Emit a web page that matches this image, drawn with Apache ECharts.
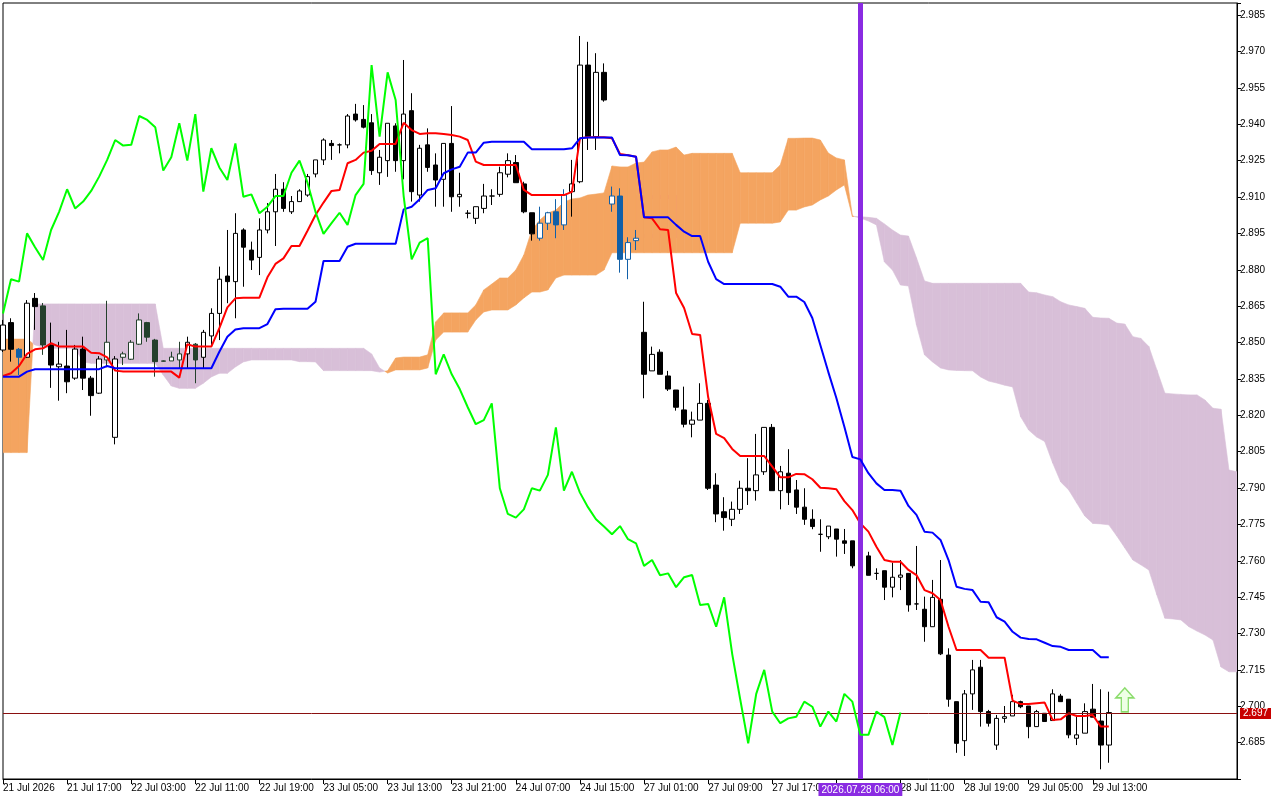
<!DOCTYPE html>
<html>
<head>
<meta charset="utf-8">
<script src="https://cdn.jsdelivr.net/npm/echarts@6/dist/echarts.min.js"></script>
<style>
html,body{margin:0;padding:0;background:#fff;}
#chart{width:1280px;height:800px;}
</style>
</head>
<body>
<div id="chart"></div>
<script>
// ---- tick labels (every 8 bars) ----
const tickLabels = ['21 Jul 2026','21 Jul 17:00','22 Jul 03:00','22 Jul 11:00','22 Jul 19:00','23 Jul 05:00',
  '23 Jul 13:00','23 Jul 21:00','24 Jul 07:00','24 Jul 15:00','27 Jul 01:00','27 Jul 09:00','27 Jul 17:00',
  '','28 Jul 11:00','28 Jul 19:00','29 Jul 05:00','29 Jul 13:00'];
const barCount = 155;
const markerBar = 107;
const markerLabel = '2026.07.28 06:00';
const lastPrice = 2.697;
const signalBars = [140];
const signalPrices = [2.7026];
const boxBars = [79, 84];
const boxPrices = [2.9100, 2.8939];

// ---- candles ----
const opens = [2.8469,2.8582,2.8472,2.8439,2.8682,2.8651,2.8490,2.8400,2.8403,2.8353,
2.8473,2.8353,2.8291,2.8428,2.8109,2.8439,2.8431,2.8493,2.8582,2.8510,
2.8424,2.8424,2.8428,2.8453,2.8493,2.8439,2.8527,2.8620,2.8774,2.8751,
2.8964,2.8881,2.8851,2.8964,2.9039,2.9132,2.9039,2.9081,2.9108,2.9195,
2.9253,2.9321,2.9315,2.9315,2.9442,2.9420,2.9406,2.9200,2.9250,2.9393,
2.9250,2.9456,2.9108,2.9315,2.9232,2.9173,2.9321,2.9101,2.9033,2.9012,
2.9053,2.9104,2.9111,2.9194,2.9242,2.9154,2.9035,2.8930,2.8992,2.9039,
2.8985,2.9122,2.9163,2.9644,2.9349,2.9614,2.9071,2.9104,2.8843,2.8920,
2.8542,2.8383,2.8460,2.8362,2.8304,2.8222,2.8163,2.8180,2.8249,2.7912,
2.7802,2.7771,2.7812,2.7899,2.7889,2.7967,2.8150,2.7889,2.7961,2.7892,
2.7821,2.7771,2.7709,2.7699,2.7731,2.7682,2.7682,2.7579,2.7620,2.7548,
2.7559,2.7491,2.7532,2.7548,2.7422,2.7400,2.7328,2.7441,2.7211,2.7019,
2.6858,2.7051,2.7161,2.6978,2.6840,2.6950,2.6960,2.7019,2.7001,2.6916,
2.6971,2.6941,2.7042,2.7029,2.6868,2.6889,2.6988,2.6939,2.6840];
const highs = [2.8593,2.8600,2.8477,2.8675,2.8704,2.8663,2.8582,2.8503,2.8552,2.8490,
2.8524,2.8362,2.8444,2.8672,2.8444,2.8462,2.8510,2.8620,2.8585,2.8515,
2.8426,2.8462,2.8503,2.8524,2.8498,2.8552,2.8641,2.8813,2.8964,2.9033,
2.8971,2.8916,2.9012,2.9075,2.9195,2.9161,2.9104,2.9132,2.9195,2.9253,
2.9342,2.9335,2.9321,2.9442,2.9484,2.9479,2.9442,2.9294,2.9404,2.9404,
2.9665,2.9528,2.9315,2.9383,2.9280,2.9321,2.9475,2.9200,2.9046,2.9060,
2.9154,2.9132,2.9225,2.9280,2.9273,2.9163,2.9035,2.9060,2.9039,2.9091,
2.9132,2.9253,2.9764,2.9740,2.9693,2.9651,2.9143,2.9136,2.8934,2.8964,
2.8668,2.8483,2.8472,2.8383,2.8304,2.8318,2.8215,2.8332,2.8263,2.7961,
2.7862,2.7844,2.7930,2.8023,2.8123,2.8150,2.8164,2.7991,2.8060,2.7933,
2.7899,2.7812,2.7771,2.7743,2.7731,2.7731,2.7682,2.7636,2.7637,2.7569,
2.7559,2.7592,2.7603,2.7548,2.7661,2.7452,2.7521,2.7603,2.7239,2.7019,
2.7067,2.7191,2.7191,2.6985,2.6964,2.7001,2.7047,2.7023,2.7001,2.6985,
2.6971,2.7070,2.7051,2.7029,2.6964,2.7012,2.7092,2.7070,2.7060];
const lows = [2.8461,2.8421,2.8366,2.8436,2.8552,2.8449,2.8313,2.8260,2.8291,2.8346,
2.8304,2.8198,2.8288,2.8398,2.8080,2.8407,2.8428,2.8490,2.8503,2.8359,
2.8421,2.8424,2.8394,2.8394,2.8332,2.8394,2.8490,2.8510,2.8662,2.8600,
2.8730,2.8799,2.8778,2.8950,2.8898,2.9039,2.9030,2.9081,2.9101,2.9181,
2.9232,2.9253,2.9280,2.9301,2.9411,2.9383,2.9191,2.9150,2.9183,2.9204,
2.9173,2.9081,2.9081,2.9204,2.9060,2.9060,2.9039,2.9060,2.9012,2.8989,
2.9033,2.9067,2.9101,2.9181,2.9159,2.9033,2.8920,2.8920,2.8964,2.8930,
2.8964,2.9019,2.9157,2.9294,2.9294,2.9493,2.9039,2.8788,2.8761,2.8881,
2.8270,2.8383,2.8369,2.8300,2.8219,2.8150,2.8109,2.8180,2.7892,2.7759,
2.7724,2.7743,2.7793,2.7830,2.7848,2.7954,2.7889,2.7812,2.7830,2.7793,
2.7748,2.7730,2.7637,2.7689,2.7617,2.7628,2.7569,2.7562,2.7540,2.7521,
2.7438,2.7449,2.7479,2.7390,2.7397,2.7266,2.7328,2.7211,2.6998,2.6808,
2.6795,2.6985,2.6916,2.6916,2.6820,2.6932,2.6960,2.6992,2.6868,2.6916,
2.6937,2.6941,2.7019,2.6868,2.6840,2.6889,2.6955,2.6740,2.6767];
const closes = [2.8572,2.8472,2.8439,2.8662,2.8648,2.8490,2.8407,2.8411,2.8338,2.8473,
2.8353,2.8281,2.8432,2.8501,2.8432,2.8453,2.8501,2.8593,2.8522,2.8421,
2.8423,2.8440,2.8453,2.8501,2.8428,2.8542,2.8620,2.8761,2.8751,2.8950,
2.8893,2.8840,2.8964,2.9039,2.9132,2.9053,2.9081,2.9125,2.9184,2.9253,
2.9335,2.9312,2.9315,2.9434,2.9418,2.9388,2.9209,2.9264,2.9404,2.9250,
2.9442,2.9122,2.9301,2.9222,2.9170,2.9321,2.9101,2.9111,2.9033,2.9060,
2.9104,2.9104,2.9200,2.9250,2.9159,2.9039,2.8948,2.8992,2.9035,2.8985,
2.9108,2.9154,2.9644,2.9349,2.9614,2.9500,2.9104,2.8843,2.8912,2.8930,
2.8369,2.8451,2.8369,2.8308,2.8233,2.8163,2.8180,2.8249,2.7899,2.7793,
2.7778,2.7812,2.7899,2.7889,2.7954,2.8150,2.7889,2.7967,2.7881,2.7821,
2.7771,2.7741,2.7709,2.7743,2.7689,2.7672,2.7579,2.7603,2.7540,2.7548,
2.7491,2.7532,2.7541,2.7418,2.7422,2.7328,2.7449,2.7216,2.7029,2.6847,
2.7051,2.7150,2.6978,2.6930,2.6950,2.6957,2.7019,2.6998,2.6916,2.6978,
2.6937,2.7051,2.7019,2.6882,2.6882,2.6978,2.6955,2.6840,2.6974];

// ---- Ichimoku lines ----
const tenkan = [2.8362,2.8373,2.8403,2.8453,2.8472,2.8476,2.8497,2.8483,2.8483,2.8483,
2.8483,2.8458,2.8456,2.8439,2.8384,2.8380,2.8380,2.8380,2.8380,2.8380,
2.8380,2.8380,2.8355,2.8493,2.8483,2.8483,2.8483,2.8559,2.8645,2.8682,
2.8685,2.8685,2.8685,2.8769,2.8824,2.8847,2.8898,2.8898,2.8961,2.9026,
2.9077,2.9125,2.9129,2.9239,2.9253,2.9283,2.9291,2.9319,2.9319,2.9319,
2.9406,2.9376,2.9360,2.9363,2.9363,2.9360,2.9356,2.9349,2.9335,2.9246,
2.9232,2.9232,2.9232,2.9232,2.9232,2.9129,2.9108,2.9108,2.9108,2.9108,
2.9108,2.9121,2.9342,2.9346,2.9346,2.9346,2.9342,2.9277,2.9272,2.9266,
2.9016,2.9012,2.8967,2.8964,2.8704,2.8642,2.8535,2.8531,2.8275,2.8123,
2.8106,2.8061,2.8032,2.8032,2.8032,2.8032,2.7988,2.7944,2.7944,2.7958,
2.7957,2.7936,2.7901,2.7899,2.7895,2.7846,2.7809,2.7754,2.7720,2.7658,
2.7603,2.7596,2.7596,2.7562,2.7541,2.7479,2.7466,2.7438,2.7328,2.7232,
2.7232,2.7232,2.7232,2.7200,2.7200,2.7200,2.7023,2.7009,2.7009,2.7012,
2.7015,2.6943,2.6946,2.6971,2.6960,2.6960,2.6964,2.6916,2.6916];
const kijun = [2.8359,2.8359,2.8359,2.8380,2.8390,2.8390,2.8390,2.8390,2.8390,2.8390,
2.8390,2.8390,2.8390,2.8403,2.8394,2.8394,2.8394,2.8394,2.8394,2.8394,
2.8394,2.8394,2.8394,2.8394,2.8394,2.8394,2.8394,2.8462,2.8524,2.8554,
2.8559,2.8559,2.8559,2.8576,2.8637,2.8639,2.8639,2.8639,2.8639,2.8668,
2.8836,2.8836,2.8836,2.8895,2.8907,2.8907,2.8907,2.8907,2.8907,2.8907,
2.9049,2.9060,2.9091,2.9129,2.9136,2.9198,2.9214,2.9225,2.9283,2.9283,
2.9324,2.9328,2.9328,2.9328,2.9328,2.9328,2.9297,2.9297,2.9297,2.9297,
2.9297,2.9301,2.9342,2.9345,2.9345,2.9345,2.9345,2.9273,2.9272,2.9266,
2.9016,2.9016,2.9016,2.9016,2.8985,2.8957,2.8939,2.8939,2.8833,2.8761,
2.8741,2.8741,2.8741,2.8741,2.8741,2.8741,2.8741,2.8730,2.8689,2.8689,
2.8667,2.8601,2.8490,2.8378,2.8271,2.8153,2.8028,2.8018,2.7961,2.7919,
2.7892,2.7892,2.7889,2.7826,2.7789,2.7720,2.7716,2.7686,2.7603,2.7493,
2.7484,2.7479,2.7431,2.7429,2.7367,2.7349,2.7307,2.7283,2.7277,2.7276,
2.7262,2.7248,2.7245,2.7232,2.7232,2.7232,2.7232,2.7202,2.7202];
const chikou = [2.8620,2.8761,2.8751,2.8950,2.8893,2.8840,2.8964,2.9039,2.9132,2.9053,
2.9081,2.9125,2.9184,2.9253,2.9335,2.9312,2.9315,2.9434,2.9418,2.9388,
2.9209,2.9264,2.9404,2.9250,2.9442,2.9122,2.9301,2.9222,2.9170,2.9321,
2.9101,2.9111,2.9033,2.9060,2.9104,2.9104,2.9200,2.9250,2.9159,2.9039,
2.8948,2.8992,2.9035,2.8985,2.9108,2.9154,2.9644,2.9349,2.9614,2.9500,
2.9104,2.8843,2.8912,2.8930,2.8369,2.8451,2.8369,2.8308,2.8233,2.8163,
2.8180,2.8249,2.7899,2.7793,2.7778,2.7812,2.7899,2.7889,2.7954,2.8150,
2.7889,2.7967,2.7881,2.7821,2.7771,2.7741,2.7709,2.7743,2.7689,2.7672,
2.7579,2.7603,2.7540,2.7548,2.7491,2.7532,2.7541,2.7418,2.7422,2.7328,
2.7449,2.7216,2.7029,2.6847,2.7051,2.7150,2.6978,2.6930,2.6950,2.6957,
2.7019,2.6998,2.6916,2.6978,2.6937,2.7051,2.7019,2.6882,2.6882,2.6978,
2.6955,2.6840,2.6974];
const spanA = [2.8514,2.8514,2.8514,2.8514,2.8490,2.8481,2.8476,2.8476,2.8476,2.8476,
2.8420,2.8414,2.8414,2.8414,2.8414,2.8414,2.8414,2.8414,2.8414,2.8414,
2.8366,2.8321,2.8311,2.8311,2.8311,2.8332,2.8358,2.8373,2.8373,2.8399,
2.8420,2.8428,2.8428,2.8428,2.8428,2.8428,2.8428,2.8421,2.8421,2.8420,
2.8384,2.8384,2.8384,2.8384,2.8384,2.8384,2.8384,2.8378,2.8383,2.8436,
2.8440,2.8440,2.8440,2.8449,2.8585,2.8622,2.8622,2.8622,2.8622,2.8655,
2.8717,2.8741,2.8766,2.8766,2.8799,2.8861,2.8964,2.9005,2.9034,2.9046,
2.9079,2.9092,2.9096,2.9108,2.9112,2.9117,2.9228,2.9224,2.9224,2.9240,
2.9244,2.9286,2.9294,2.9294,2.9306,2.9273,2.9280,2.9280,2.9280,2.9280,
2.9280,2.9280,2.9200,2.9200,2.9200,2.9200,2.9200,2.9232,2.9342,2.9342,
2.9343,2.9343,2.9335,2.9281,2.9261,2.9253,2.9022,2.9013,2.9001,2.8985,
2.8832,2.8799,2.8737,2.8733,2.8572,2.8449,2.8420,2.8395,2.8387,2.8385,
2.8384,2.8383,2.8358,2.8341,2.8333,2.8324,2.8317,2.8194,2.8139,2.8110,
2.8092,2.8003,2.7925,2.7892,2.7838,2.7785,2.7754,2.7752,2.7748,2.7702,
2.7653,2.7603,2.7583,2.7562,2.7459,2.7363,2.7360,2.7356,2.7328,2.7310,
2.7294,2.7273,2.7162,2.7142,2.7142];
const spanB = [2.8046,2.8046,2.8046,2.8046,2.8659,2.8659,2.8659,2.8659,2.8659,2.8659,
2.8659,2.8659,2.8659,2.8659,2.8659,2.8659,2.8659,2.8659,2.8659,2.8659,
2.8476,2.8476,2.8476,2.8476,2.8476,2.8476,2.8476,2.8476,2.8476,2.8476,
2.8476,2.8476,2.8476,2.8476,2.8476,2.8476,2.8476,2.8476,2.8476,2.8476,
2.8476,2.8476,2.8476,2.8476,2.8476,2.8476,2.8453,2.8395,2.8374,2.8387,
2.8387,2.8387,2.8387,2.8395,2.8510,2.8543,2.8543,2.8543,2.8543,2.8593,
2.8626,2.8634,2.8634,2.8634,2.8655,2.8684,2.8708,2.8708,2.8717,2.8766,
2.8778,2.8778,2.8778,2.8778,2.8778,2.8799,2.8870,2.8870,2.8870,2.8870,
2.8870,2.8870,2.8870,2.8870,2.8870,2.8870,2.8870,2.8870,2.8870,2.8870,
2.8870,2.8870,2.8992,2.8992,2.8992,2.8992,2.8992,2.8997,2.9046,2.9046,
2.9059,2.9067,2.9088,2.9104,2.9129,2.9150,2.9020,2.9019,2.9016,2.9012,
2.8989,2.8964,2.8943,2.8939,2.8849,2.8754,2.8744,2.8744,2.8744,2.8744,
2.8744,2.8744,2.8744,2.8744,2.8744,2.8744,2.8744,2.8744,2.8708,2.8705,
2.8696,2.8689,2.8668,2.8655,2.8648,2.8641,2.8604,2.8601,2.8600,2.8580,
2.8576,2.8524,2.8517,2.8483,2.8387,2.8291,2.8288,2.8286,2.8284,2.8284,
2.8263,2.8229,2.8225,2.7974,2.7967];

// ---- build ----
const categories = Array.from({length: barCount}, (_, i) => String(i));
const UP = '#f4a460', DN = '#d8bfd8';
const IN_UP = '#1160a8', IN_DN = '#24402c';
const candleData = opens.map((o, i) => {
  const c = closes[i];
  const top = Math.max(o, c), bot = Math.min(o, c);
  const hi = Math.max(spanA[i], spanB[i]), lo = Math.min(spanA[i], spanB[i]);
  let frac;
  if (top - bot < 0.0002) frac = (top <= hi && bot >= lo) ? 1 : 0;
  else frac = Math.max(0, Math.min(top, hi) - Math.max(bot, lo)) / (top - bot);
  const item = {value: [o, c, lows[i], highs[i]]};
  if (frac > 0.5) {
    const col = spanA[i] >= spanB[i] ? IN_UP : IN_DN;
    const fill = c >= o ? '#ffffff' : col;
    item.itemStyle = {color: fill, color0: fill, borderColor: col, borderColor0: col};
  }
  return item;
});
const cloudSegments = [];
for (let i = 0; i < spanA.length - 1; i++) {
  cloudSegments.push([i, spanA[i], spanB[i], spanA[i + 1], spanB[i + 1]]);
}
const FONT = 'Liberation Sans';
const showTick = (i) => i % 8 === 0 && i <= 136;

const chart = echarts.init(document.getElementById('chart'), null, {renderer: 'canvas'});
chart.setOption({
  animation: false,
  backgroundColor: '#ffffff',
  grid: {left: 2, right: 43, top: 3, bottom: 21, show: true, borderColor: '#000', borderWidth: 1, backgroundColor: '#fff'},
  xAxis: {
    type: 'category', data: categories, boundaryGap: false,
    axisLine: {show: true, lineStyle: {color: '#000', width: 1}},
    axisTick: {show: true, interval: showTick, length: 5, lineStyle: {color: '#000'}},
    axisLabel: {interval: showTick, align: 'left', margin: 4, color: '#000', fontSize: 10, fontFamily: FONT,
      formatter: (v) => { const k = Number(v) / 8; return tickLabels[k] !== undefined ? tickLabels[k] : ''; }},
    splitLine: {show: false}
  },
  yAxis: {
    type: 'value', position: 'right', min: 2.670, max: 2.990, interval: 0.015,
    axisLine: {show: true, lineStyle: {color: '#000', width: 1}},
    axisTick: {show: true, length: 4, lineStyle: {color: '#000'}},
    axisLabel: {color: '#000', fontSize: 10, fontFamily: FONT, margin: 3,
      formatter: (v) => (v < 2.675 || v > 2.9875) ? '' : v.toFixed(3)},
    splitLine: {show: false}
  },
  series: [
    {
      name: 'Cloud', type: 'custom', z: 1, silent: true, clip: true,
      data: cloudSegments,
      encode: {x: 0, y: [1, 2, 3, 4]},
      renderItem: (params, api) => {
        const i = api.value(0);
        const a0 = api.value(1), b0 = api.value(2), a1 = api.value(3), b1 = api.value(4);
        const A0 = api.coord([i, a0]), B0 = api.coord([i, b0]);
        const A1 = api.coord([i + 1, a1]), B1 = api.coord([i + 1, b1]);
        const d0 = a0 - b0, d1 = a1 - b1;
        const col = (d) => d >= 0 ? UP : DN;
        if (d0 * d1 >= 0) {
          const c = col(d0 + d1);
          return {type: 'polygon', shape: {points: [A0, A1, B1, B0]}, style: {fill: c, stroke: c, lineWidth: 0.6}};
        }
        const t = d0 / (d0 - d1);
        const X = [A0[0] + t * (A1[0] - A0[0]), A0[1] + t * (A1[1] - A0[1])];
        return {type: 'group', children: [
          {type: 'polygon', shape: {points: [A0, X, B0]}, style: {fill: col(d0), stroke: col(d0), lineWidth: 0.6}},
          {type: 'polygon', shape: {points: [X, A1, B1]}, style: {fill: col(d1), stroke: col(d1), lineWidth: 0.6}}
        ]};
      }
    },
    {
      name: 'Price', type: 'candlestick', z: 3, barWidth: 5, silent: true,
      data: candleData,
      itemStyle: {color: '#ffffff', color0: '#000000', borderColor: '#000000', borderColor0: '#000000', borderWidth: 1}
    },
    {name: 'Tenkan', type: 'line', z: 4, data: tenkan, symbol: 'none', silent: true,
     lineStyle: {color: '#ff0000', width: 2},
     markLine: {
        silent: true, symbol: ['none', 'none'], animation: false, precision: 4,
        data: [
          {yAxis: lastPrice, lineStyle: {color: '#8a1010', width: 1, type: 'solid'},
           label: {show: true, position: 'end', distance: 3, formatter: lastPrice.toFixed(3), color: '#fff',
             backgroundColor: '#c80000', padding: [1, 3, 0, 3], fontSize: 10, fontFamily: FONT}},
          {xAxis: String(markerBar), lineStyle: {color: '#8a2be2', width: 5, type: 'solid'},
           label: {show: true, position: 'start', distance: 4, formatter: markerLabel, color: '#fff',
             backgroundColor: '#8a2be2', padding: [2, 3, 1, 3], fontSize: 10, fontFamily: FONT}}
        ]
     }},
    {name: 'Kijun', type: 'line', z: 5, data: kijun, symbol: 'none', silent: true,
     lineStyle: {color: '#0000ff', width: 2}},
    {name: 'Chikou', type: 'line', z: 6, data: chikou, symbol: 'none', silent: true,
     lineStyle: {color: '#00ff00', width: 2},
     markArea: {silent: true, itemStyle: {color: 'rgba(0,0,0,0)', borderColor: '#ff40ff', borderWidth: 4},
       data: [[{xAxis: String(boxBars[0]), yAxis: boxPrices[0]}, {xAxis: String(boxBars[1]), yAxis: boxPrices[1]}]]}},
    {name: 'Signal', type: 'scatter', z: 7, silent: true,
     data: signalBars.map((b, i) => [String(b), signalPrices[i]]),
     symbol: 'path://M9,0 L18,10 L12.5,10 L12.5,24 L5.5,24 L5.5,10 L0,10 Z',
     symbolSize: [18, 24],
     itemStyle: {color: '#eaffdf', borderColor: '#6fd34a', borderWidth: 1.5}}
  ]
});
</script>
</body>
</html>
